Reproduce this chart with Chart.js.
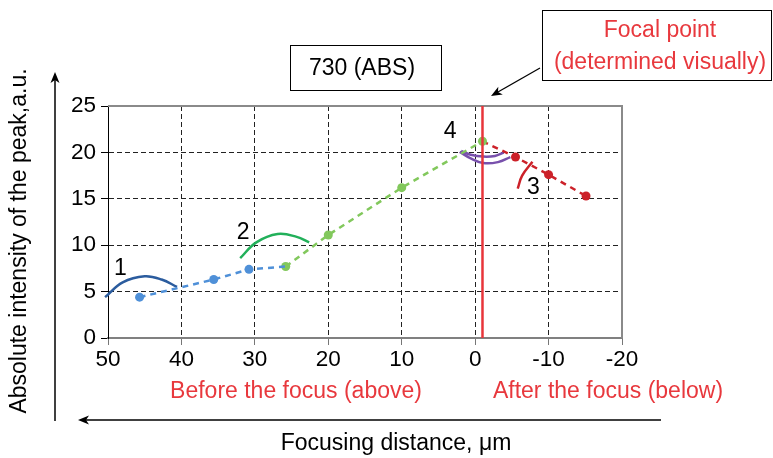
<!DOCTYPE html>
<html>
<head>
<meta charset="utf-8">
<script src="https://cdn.jsdelivr.net/npm/chart.js@4.4.1/dist/chart.umd.min.js"></script>
<style>
  html, body { margin: 0; padding: 0; background: #fff; }
  #wrap { width: 773px; height: 458px; }
</style>
</head>
<body>
<div id="wrap"><canvas id="grafica"></canvas></div>
<script>
// Datos
var blueX = [45.7, 35.6, 30.8, 25.8];
var blueY = [4.4, 6.3, 7.4, 7.7];
var greenX = [25.8, 20, 10, -1];
var greenY = [7.7, 11.1, 16.2, 21.2];
var redX = [-1, -5.5, -10, -15.1];
var redY = [21.2, 19.5, 17.6, 15.3];
var focalX = -1;

// Arcos de anotacion (1, 2, 3, 4)
var arc1X = [50.4, 48, 45, 42.7, 40.6];
var arc1Y = [4.4, 6.0, 6.65, 6.3, 5.5];
var arc2X = [32, 29.8, 26.9, 24.3, 22.6];
var arc2Y = [8.6, 10.3, 11.2, 10.9, 10.3];
var arc3X = [-7.8, -6.4, -5.8];
var arc3Y = [19.0, 17.5, 16.1];
var arc4aX = [2.1, 0.6, -1.1, -3.1, -4.8];
var arc4aY = [20.05, 19.35, 18.85, 18.95, 19.5];
var arc4bX = [1.9, 0.6, -1.1, -2.7, -3.9];
var arc4bY = [20.15, 19.75, 19.55, 19.62, 19.98];

var arcLabels = ['1', '2', '3', '4'];
var arcLabelX = [48.3, 31.6, -7.95, 3.4];
var arcLabelY = [7.5, 11.4, 16.2, 22.2];

var xTicks = [50, 40, 30, 20, 10, 0, -10, -20];
var yTicks = [0, 5, 10, 15, 20, 25];

var FONT = "'Liberation Sans', Arial, sans-serif";

function pts(xs, ys) {
    return xs.map(function (x, i) { return { x: x, y: ys[i] }; });
}

function arcSet(xs, ys, color) {
    return {
        data: pts(xs, ys),
        showLine: true,
        borderColor: color,
        borderWidth: 2.5,
        pointRadius: 0,
        tension: 0.4,
        clip: false
    };
}

function arrow(ctx, x1, y1, x2, y2) {
    var a = Math.atan2(y2 - y1, x2 - x1);
    ctx.beginPath();
    ctx.moveTo(x1, y1);
    ctx.lineTo(x2 - 6 * Math.cos(a), y2 - 6 * Math.sin(a));
    ctx.stroke();
    ctx.beginPath();
    ctx.moveTo(x2, y2);
    ctx.lineTo(x2 - 11 * Math.cos(a) + 4.5 * Math.sin(a), y2 - 11 * Math.sin(a) - 4.5 * Math.cos(a));
    ctx.lineTo(x2 - 8 * Math.cos(a), y2 - 8 * Math.sin(a));
    ctx.lineTo(x2 - 11 * Math.cos(a) - 4.5 * Math.sin(a), y2 - 11 * Math.sin(a) + 4.5 * Math.cos(a));
    ctx.closePath();
    ctx.fill();
}

var extras = {
    id: 'extras',
    beforeDatasetsDraw: function (chart) {
        var ctx = chart.ctx, a = chart.chartArea;
        ctx.save();
        ctx.strokeStyle = '#8a8a8a';
        ctx.lineWidth = 2;
        ctx.beginPath();
        ctx.moveTo(a.left, a.top);
        ctx.lineTo(a.right, a.top);
        ctx.lineTo(a.right, a.bottom);
        ctx.stroke();
        ctx.restore();
    },
    afterDraw: function (chart) {
        var ctx = chart.ctx;
        var xs = chart.scales.x, ys = chart.scales.y;
        ctx.save();
        ctx.textAlign = 'center';
        ctx.textBaseline = 'middle';

        // numeros de los arcos
        ctx.fillStyle = '#000';
        ctx.font = '23px ' + FONT;
        arcLabels.forEach(function (t, i) {
            ctx.fillText(t, xs.getPixelForValue(arcLabelX[i]), ys.getPixelForValue(arcLabelY[i]));
        });

        // caja del titulo
        ctx.strokeStyle = '#000';
        ctx.lineWidth = 1;
        ctx.strokeRect(290.5, 45.5, 151, 45);
        ctx.fillText('730 (ABS)', 362, 69);

        // caja del punto focal
        ctx.strokeRect(542.5, 10.5, 229, 70);
        ctx.fillStyle = '#e8383d';
        ctx.fillText('Focal point', 660, 31);
        ctx.fillText('(determined visually)', 660, 63);

        ctx.fillStyle = '#000';
        ctx.lineWidth = 1.3;
        arrow(ctx, 540, 68, 491, 96);

        // textos bajo el eje x
        ctx.fillStyle = '#e8383d';
        ctx.fillText('Before the focus (above)', 296, 392);
        ctx.fillText('After the focus (below)', 608, 392);

        ctx.fillStyle = '#000';
        ctx.lineWidth = 1.5;
        arrow(ctx, 661, 420, 78, 420);
        arrow(ctx, 55, 421, 55, 72);
        ctx.fillText('Focusing distance, \u03bcm', 396, 444);

        ctx.translate(20, 241);
        ctx.rotate(-Math.PI / 2);
        ctx.fillText('Absolute intensity of the peak,a.u.', 0, 0);
        ctx.restore();
    }
};

var config = {
    type: 'scatter',
    data: {
        datasets: [{
            // linea del punto focal
            data: [{ x: focalX, y: 0 }, { x: focalX, y: 25 }],
            showLine: true,
            borderColor: '#e8353a',
            borderWidth: 2.5,
            pointRadius: 0
        }, {
            data: pts(blueX, blueY),
            showLine: true,
            borderColor: '#4f90d8',
            backgroundColor: '#4f90d8',
            borderWidth: 2.5,
            borderDash: [6, 5],
            pointRadius: [4.5, 4.5, 4.5, 0],
            pointBorderWidth: 0
        }, {
            data: pts(greenX, greenY),
            showLine: true,
            borderColor: '#82c85c',
            backgroundColor: '#82c85c',
            borderWidth: 2.5,
            borderDash: [6, 5],
            pointRadius: 4.5,
            pointBorderWidth: 0
        }, {
            data: pts(redX, redY),
            showLine: true,
            borderColor: '#cc2129',
            backgroundColor: '#cc2129',
            borderWidth: 2.5,
            borderDash: [6, 5],
            pointRadius: [0, 4.5, 4.5, 4.5],
            pointBorderWidth: 0
        },
            arcSet(arc1X, arc1Y, '#2b5c9e'),
            arcSet(arc2X, arc2Y, '#22b05a'),
            arcSet(arc3X, arc3Y, '#cc2129'),
            arcSet(arc4aX, arc4aY, '#7850ac'),
            arcSet(arc4bX, arc4bY, '#7850ac')
        ]
    },
    options: {
        responsive: true,
        maintainAspectRatio: false,
        animation: false,
        layout: { padding: { left: 58, right: 151, top: 106, bottom: 90 } },
        plugins: { legend: { display: false }, tooltip: { enabled: false } },
        scales: {
            x: {
                type: 'linear',
                reverse: true,
                min: -20,
                max: 50,
                afterBuildTicks: function (s) { s.ticks = xTicks.map(function (v) { return { value: v }; }); },
                afterFit: function (s) { s.height = 30; },
                ticks: { color: '#000', font: { size: 22.5, family: FONT }, padding: 1, maxRotation: 0 },
                grid: { color: '#222', lineWidth: 1, tickLength: 7, tickColor: '#777' },
                border: { color: '#808080', width: 2, dash: [5, 3] }
            },
            y: {
                min: 0,
                max: 25,
                afterBuildTicks: function (s) { s.ticks = yTicks.map(function (v) { return { value: v }; }); },
                afterFit: function (s) { s.width = 50; },
                ticks: { color: '#000', font: { size: 22.5, family: FONT }, padding: 5 },
                grid: { color: '#222', lineWidth: 1, tickLength: 7, tickColor: '#000' },
                border: { color: '#000', width: 1, dash: [5, 3] }
            }
        }
    },
    plugins: [extras]
};

window.onload = function () {
    var ctx = document.getElementById('grafica').getContext('2d');
    window.myChart = new Chart(ctx, config);
};
</script>
</body>
</html>
